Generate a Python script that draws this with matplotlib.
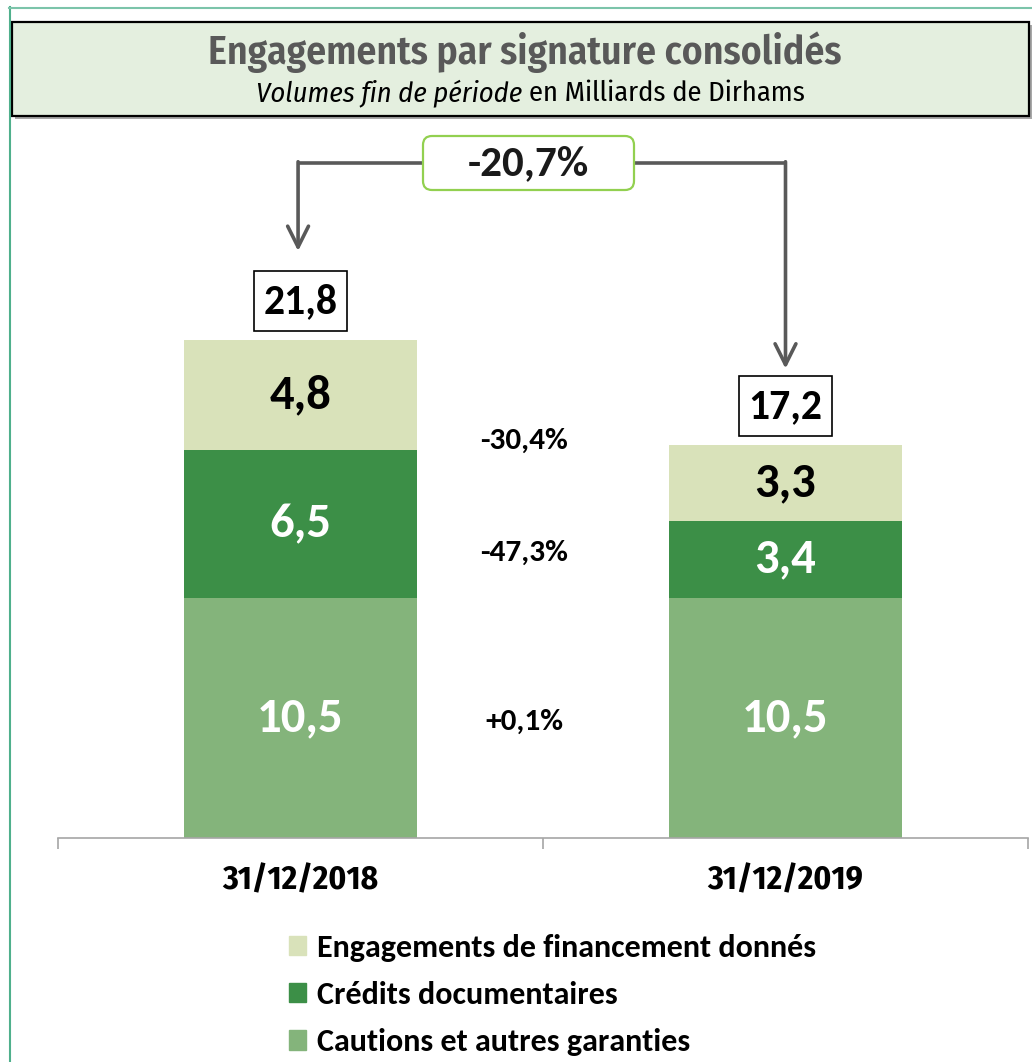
import matplotlib
matplotlib.use("Agg")
import matplotlib.pyplot as plt
from matplotlib.patches import Rectangle, FancyBboxPatch, Patch
from matplotlib.lines import Line2D

# data (milliards de dirhams)
dates = ["31/12/2018", "31/12/2019"]
cautions = [10.5, 10.5]
credits_doc = [6.5, 3.4]
financement = [4.8, 3.3]
totals = [21.8, 17.2]
total_labels = ["21,8", "17,2"]
cautions_labels = ["10,5", "10,5"]
credits_labels = ["6,5", "3,4"]
financement_labels = ["4,8", "3,3"]
variations = ["+0,1%", "-47,3%", "-30,4%"]  # cautions, credits, financement
total_variation = "-20,7%"

legend_names = ["Engagements de financement donnés", "Crédits documentaires",
                "Cautions et autres garanties"]

c_light = "#D9E2BA"
c_dark = "#3C8F47"
c_mid = "#84B47B"
grey = "#595959"
body = ["Carlito", "DejaVu Sans"]
cond = ["Fira Sans Condensed", "DejaVu Sans"]

plt.rcParams["font.family"] = body

W, H = 1032, 1062
fig = plt.figure(figsize=(W / 100, H / 100), dpi=100)

def fx(px):
    return px / W

def fy(py):
    return 1 - py / H

def pbox(x0, y0, x1, y1, **kw):
    # rectangle given in picture pixels (top-left origin), drawn in inches
    return FancyBboxPatch((x0 / 100, (H - y1) / 100), (x1 - x0) / 100, (y1 - y0) / 100,
                          transform=fig.dpi_scale_trans, **kw)

# outer thin green frame
fig.add_artist(Line2D([fx(9.5), fx(9.5)], [fy(7), 0], color="#4FB08C", lw=1.5))
fig.add_artist(Line2D([fx(9), 1], [fy(7.5), fy(7.5)], color="#7CC4AA", lw=1.5))

# title box with small shadow
fig.add_artist(pbox(15, 25, 1032, 119, boxstyle="square,pad=0", fc="#A8A8A8", ec="none"))
fig.add_artist(pbox(12, 22, 1029, 116, boxstyle="square,pad=0", fc="#E4EFDF",
                    ec="black", lw=1.6))
fig.text(fx(525), fy(52), "Engagements par signature consolidés", ha="center", va="center",
         fontsize=28.5, fontweight=600, color=grey, family=cond)
fig.text(fx(522), fy(93), "Volumes fin de période", ha="right", va="center",
         fontsize=20.5, style="italic", family=cond)
fig.text(fx(529), fy(93), "en Milliards de Dirhams", ha="left", va="center",
         fontsize=20.5, family=cond)

ax = fig.add_axes([fx(58), 1 - 838 / H, 970 / W, 708 / H])
x = [0, 1]
bw = 0.48
ax.bar(x, cautions, bw, color=c_mid)
ax.bar(x, credits_doc, bw, bottom=cautions, color=c_dark)
bottom2 = [a + b for a, b in zip(cautions, credits_doc)]
ax.bar(x, financement, bw, bottom=bottom2, color=c_light)

for i in x:
    ax.text(i, cautions[i] / 2, cautions_labels[i], ha="center", va="center",
            fontsize=35, fontweight="bold", color="white")
    ax.text(i, cautions[i] + credits_doc[i] / 2, credits_labels[i], ha="center",
            va="center", fontsize=35, fontweight="bold", color="white")
    ax.text(i, bottom2[i] + financement[i] / 2, financement_labels[i], ha="center",
            va="center", fontsize=35, fontweight="bold", color="black")
    yb = totals[i] + 1.7
    ax.add_patch(Rectangle((i - 0.096, yb - 1.31), 0.192, 2.62, fc="white", ec="black",
                           lw=1.2))
    ax.text(i, yb, total_labels[i], ha="center", va="center", fontsize=30,
            fontweight="bold", color="black")

# variation labels between the bars
var_y = [5.08, 12.48, 17.38]
for txt, yv in zip(variations, var_y):
    ax.text(0.461, yv, txt, ha="center", va="center", fontsize=22.5, fontweight="bold",
            color="black")

# total variation connector
arrow_y = 29.55
box_x = 0.465
fig.add_artist(pbox(423, 136, 634, 190, boxstyle="round,pad=0,rounding_size=0.09",
                    fc="white", ec="#92D050", lw=1.6, zorder=5))
fig.text(fx(528.5), fy(164), total_variation, ha="center", va="center", fontsize=31,
         fontweight="bold", color="#1a1a1a", zorder=6)
xl, xr = -0.005, 1.0
ax.plot([xl, box_x], [arrow_y, arrow_y], color=grey, lw=2.6, solid_capstyle="butt", zorder=3)
ax.plot([box_x, xr], [arrow_y, arrow_y], color=grey, lw=2.6, solid_capstyle="butt", zorder=3)
ax.annotate("", xy=(xl, 25.7), xytext=(xl, arrow_y + 0.06),
            arrowprops=dict(arrowstyle="->,head_length=1.5,head_width=0.75", color=grey,
                            lw=2.6, shrinkA=0, shrinkB=0))
ax.annotate("", xy=(xr, 20.55), xytext=(xr, arrow_y + 0.06),
            arrowprops=dict(arrowstyle="->,head_length=1.5,head_width=0.75", color=grey,
                            lw=2.6, shrinkA=0, shrinkB=0))

ax.set_xlim(-0.5, 1.5)
ax.set_ylim(0, 31.0)
for s in ["left", "right", "top"]:
    ax.spines[s].set_visible(False)
ax.spines["bottom"].set_color("#A6A6A6")
ax.spines["bottom"].set_linewidth(1.2)
ax.set_yticks([])
ax.set_xticks(x)
ax.set_xticklabels(dates, fontsize=24, fontweight=700, family=cond)
ax.tick_params(axis="x", which="major", length=0, pad=19)
ax.set_xticks([-0.5, 0.5, 1.5], minor=True)
ax.tick_params(axis="x", which="minor", length=8, width=1.2, color="#A6A6A6")
ax.patch.set_visible(False)

handles = [Patch(color=c_light), Patch(color=c_dark), Patch(color=c_mid)]
fig.legend(handles, legend_names, loc="upper left", bbox_to_anchor=(fx(273), fy(918)),
           frameon=False, prop=dict(weight="bold", size=23, family=body),
           handlelength=0.54, handleheight=0.54, handletextpad=0.33, labelspacing=0.6,
           borderpad=0)

fig.savefig("out.png", dpi=100)
